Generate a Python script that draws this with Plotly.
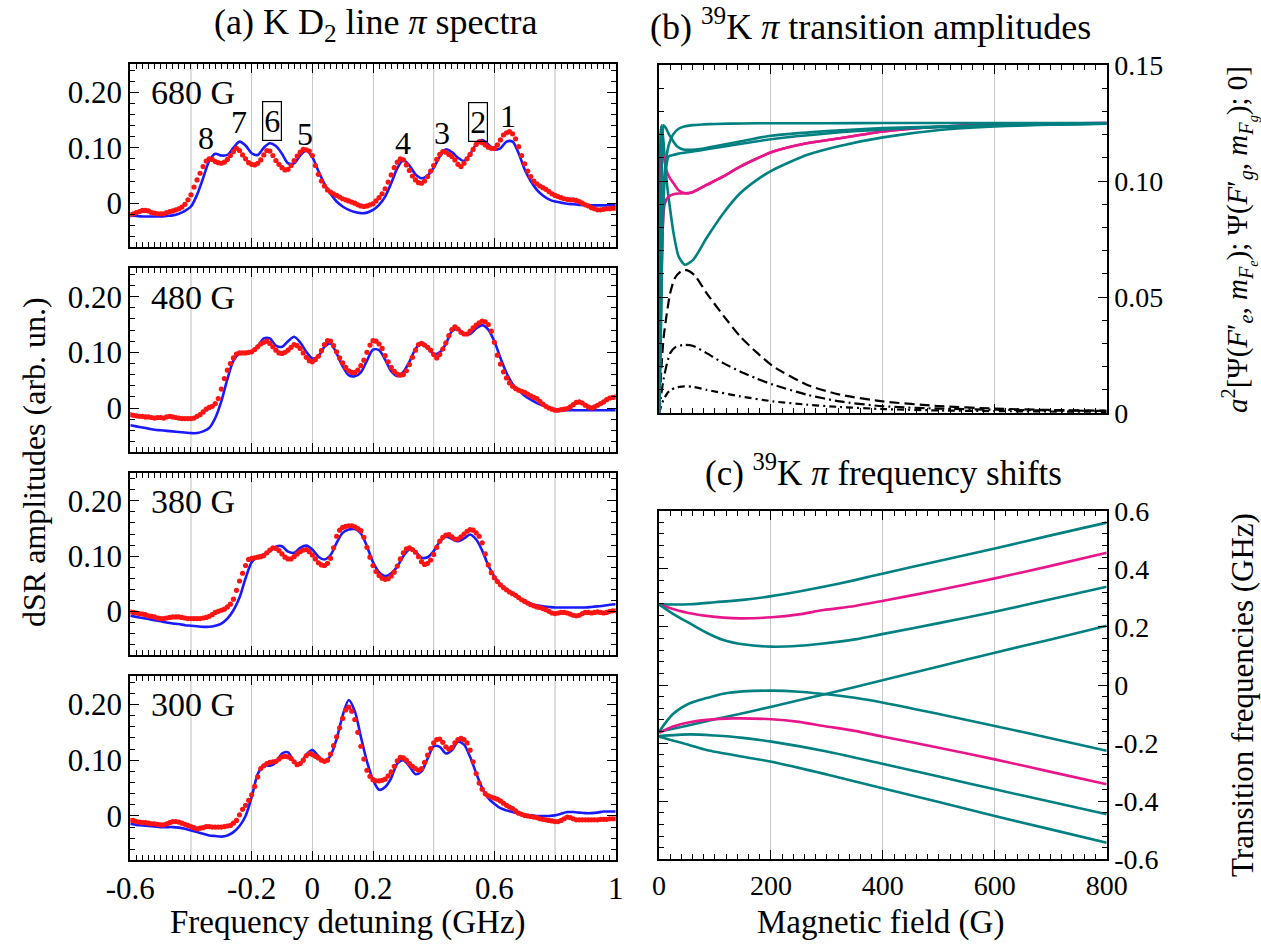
import numpy as np
import plotly.graph_objects as go

FONT = "Liberation Serif"
BLUE = "#1a1aff"
RED = "#ff1414"
TEAL = "#008080"
MAGENTA = "#e8168b"
GRID = "#c8c8c8"

# ---------------- (a) spectra: detuning grids (GHz) ----------------
DET_FIT = np.round(np.arange(-0.60, 1.0001, 0.02), 2)   # theory curve samples
DET_EXP = np.round(np.arange(-0.60, 1.0001, 0.01), 2)   # measured points

FIT_680 = [
    -0.022, -0.023, -0.024, -0.024, -0.024, -0.024, -0.023, -0.022, -0.019, -0.014,
    -0.006, 0.015, 0.045, 0.076, 0.089, 0.086, 0.087, 0.100, 0.111, 0.104,
    0.090, 0.087, 0.100, 0.108, 0.103, 0.089, 0.072, 0.072, 0.086, 0.095,
    0.083, 0.058, 0.035, 0.017, 0.003, -0.006, -0.012, -0.016, -0.018, -0.017,
    -0.012, -0.003, 0.012, 0.036, 0.063, 0.078, 0.068, 0.052, 0.045, 0.050,
    0.064, 0.084, 0.097, 0.092, 0.082, 0.076, 0.088, 0.106, 0.114, 0.106,
    0.097, 0.099, 0.111, 0.111, 0.090, 0.061, 0.040, 0.024, 0.014, 0.007,
    0.003, 0.001, -0.001, -0.002, -0.003, -0.004, -0.004, -0.004, -0.004, -0.004,
    -0.004,
]
EXP_680 = [
    -0.021, -0.019, -0.017, -0.015, -0.013, -0.013, -0.014, -0.017, -0.018, -0.019,
    -0.019, -0.019, -0.017, -0.015, -0.014, -0.012, -0.010, -0.007, -0.002, 0.006,
    0.015, 0.029, 0.042, 0.054, 0.066, 0.076, 0.080, 0.079, 0.075, 0.073,
    0.072, 0.074, 0.079, 0.086, 0.093, 0.099, 0.095, 0.087, 0.080, 0.073,
    0.070, 0.069, 0.072, 0.078, 0.087, 0.095, 0.094, 0.086, 0.077, 0.070,
    0.064, 0.060, 0.061, 0.068, 0.077, 0.085, 0.092, 0.097, 0.096, 0.094,
    0.086, 0.068, 0.052, 0.040, 0.031, 0.024, 0.020, 0.017, 0.014, 0.011,
    0.008, 0.006, 0.004, 0.002, 0.000, -0.003, -0.005, -0.006, -0.005, -0.003,
    -0.001, 0.004, 0.010, 0.017, 0.026, 0.038, 0.051, 0.064, 0.074, 0.080,
    0.078, 0.069, 0.059, 0.049, 0.042, 0.037, 0.036, 0.040, 0.048, 0.058,
    0.068, 0.079, 0.088, 0.093, 0.092, 0.088, 0.084, 0.078, 0.070, 0.066,
    0.072, 0.080, 0.088, 0.097, 0.106, 0.111, 0.109, 0.105, 0.101, 0.099,
    0.099, 0.105, 0.114, 0.123, 0.127, 0.129, 0.125, 0.116, 0.102, 0.086,
    0.071, 0.058, 0.048, 0.040, 0.035, 0.031, 0.028, 0.025, 0.021, 0.017,
    0.014, 0.012, 0.010, 0.008, 0.007, 0.006, 0.006, 0.005, 0.003, 0.000,
    -0.003, -0.005, -0.008, -0.010, -0.012, -0.012, -0.011, -0.010, -0.010, -0.009,
    -0.009,
]

FIT_480 = [
    -0.031, -0.033, -0.035, -0.037, -0.039, -0.040, -0.041, -0.042, -0.043, -0.044,
    -0.045, -0.045, -0.042, -0.036, -0.018, 0.012, 0.052, 0.085, 0.098, 0.100,
    0.101, 0.111, 0.125, 0.125, 0.112, 0.110, 0.120, 0.128, 0.118, 0.101,
    0.089, 0.093, 0.110, 0.116, 0.098, 0.075, 0.059, 0.057, 0.064, 0.085,
    0.105, 0.104, 0.087, 0.066, 0.057, 0.065, 0.083, 0.106, 0.118, 0.109,
    0.097, 0.100, 0.115, 0.138, 0.142, 0.134, 0.133, 0.143, 0.149, 0.141,
    0.120, 0.090, 0.063, 0.043, 0.032, 0.022, 0.015, 0.009, 0.005, 0.001,
    -0.002, -0.003, -0.004, -0.004, -0.004, -0.004, -0.004, -0.004, -0.004, -0.004,
    -0.004,
]
EXP_480 = [
    -0.012, -0.013, -0.014, -0.015, -0.015, -0.016, -0.016, -0.017, -0.018, -0.017,
    -0.017, -0.018, -0.016, -0.015, -0.016, -0.017, -0.018, -0.019, -0.019, -0.019,
    -0.019, -0.018, -0.015, -0.012, -0.007, -0.002, 0.001, 0.003, 0.008, 0.017,
    0.034, 0.053, 0.068, 0.080, 0.090, 0.097, 0.099, 0.099, 0.099, 0.100,
    0.101, 0.105, 0.110, 0.115, 0.118, 0.120, 0.116, 0.110, 0.104, 0.099,
    0.098, 0.100, 0.104, 0.109, 0.114, 0.112, 0.107, 0.099, 0.091, 0.085,
    0.083, 0.087, 0.093, 0.103, 0.114, 0.121, 0.120, 0.112, 0.101, 0.090,
    0.081, 0.073, 0.067, 0.064, 0.064, 0.068, 0.076, 0.086, 0.100, 0.113,
    0.121, 0.120, 0.115, 0.107, 0.094, 0.083, 0.073, 0.066, 0.061, 0.059,
    0.060, 0.067, 0.078, 0.091, 0.104, 0.114, 0.116, 0.113, 0.109, 0.104,
    0.096, 0.090, 0.096, 0.106, 0.117, 0.130, 0.141, 0.146, 0.142, 0.136,
    0.133, 0.133, 0.138, 0.144, 0.149, 0.153, 0.156, 0.155, 0.150, 0.138,
    0.118, 0.095, 0.079, 0.065, 0.054, 0.045, 0.039, 0.035, 0.032, 0.030,
    0.028, 0.025, 0.022, 0.019, 0.017, 0.012, 0.007, 0.003, 0.000, -0.002,
    -0.004, -0.004, -0.003, -0.002, -0.001, 0.002, 0.006, 0.010, 0.011, 0.009,
    0.005, 0.002, 0.000, 0.002, 0.005, 0.008, 0.011, 0.015, 0.018, 0.019,
    0.020,
]

FIT_380 = [
    -0.008, -0.010, -0.012, -0.014, -0.016, -0.018, -0.020, -0.022, -0.023, -0.025,
    -0.026, -0.027, -0.028, -0.028, -0.026, -0.022, -0.013, 0.002, 0.025, 0.060,
    0.089, 0.099, 0.103, 0.109, 0.117, 0.118, 0.108, 0.106, 0.115, 0.119,
    0.112, 0.099, 0.094, 0.102, 0.124, 0.142, 0.148, 0.149, 0.141, 0.118,
    0.089, 0.071, 0.064, 0.069, 0.081, 0.100, 0.112, 0.108, 0.097, 0.098,
    0.109, 0.126, 0.135, 0.131, 0.127, 0.132, 0.139, 0.130, 0.110, 0.083,
    0.063, 0.049, 0.040, 0.032, 0.025, 0.018, 0.014, 0.011, 0.009, 0.008,
    0.007, 0.007, 0.007, 0.007, 0.007, 0.007, 0.008, 0.009, 0.010, 0.012,
    0.013,
]
EXP_380 = [
    -0.001, -0.002, -0.003, -0.004, -0.005, -0.006, -0.008, -0.009, -0.010, -0.012,
    -0.013, -0.013, -0.012, -0.011, -0.010, -0.010, -0.010, -0.011, -0.012, -0.013,
    -0.013, -0.013, -0.013, -0.013, -0.012, -0.011, -0.009, -0.006, -0.002, 0.000,
    0.002, 0.004, 0.008, 0.013, 0.022, 0.038, 0.055, 0.069, 0.083, 0.094,
    0.096, 0.097, 0.098, 0.099, 0.101, 0.106, 0.111, 0.115, 0.114, 0.110,
    0.104, 0.098, 0.095, 0.095, 0.099, 0.104, 0.108, 0.111, 0.112, 0.108,
    0.102, 0.095, 0.088, 0.084, 0.083, 0.087, 0.096, 0.115, 0.136, 0.147,
    0.152, 0.154, 0.155, 0.155, 0.153, 0.150, 0.146, 0.134, 0.116, 0.098,
    0.083, 0.072, 0.065, 0.060, 0.058, 0.059, 0.064, 0.071, 0.082, 0.095,
    0.106, 0.113, 0.115, 0.112, 0.107, 0.099, 0.090, 0.085, 0.087, 0.093,
    0.103, 0.116, 0.127, 0.134, 0.138, 0.139, 0.135, 0.131, 0.131, 0.135,
    0.140, 0.145, 0.148, 0.147, 0.142, 0.136, 0.124, 0.104, 0.084, 0.070,
    0.061, 0.054, 0.048, 0.043, 0.039, 0.035, 0.032, 0.029, 0.025, 0.021,
    0.018, 0.015, 0.012, 0.010, 0.008, 0.007, 0.005, 0.003, 0.000, -0.003,
    -0.004, -0.003, -0.002, -0.002, -0.003, -0.005, -0.007, -0.008, -0.007, -0.004,
    -0.002, -0.002, -0.003, -0.002, -0.001, -0.002, -0.003, -0.002, 0.000, 0.001,
    0.001,
]

FIT_300 = [
    -0.014, -0.016, -0.017, -0.018, -0.019, -0.020, -0.020, -0.020, -0.021, -0.023,
    -0.026, -0.029, -0.032, -0.035, -0.036, -0.037, -0.035, -0.029, -0.018, 0.000,
    0.034, 0.075, 0.091, 0.090, 0.096, 0.112, 0.114, 0.097, 0.094, 0.110,
    0.118, 0.107, 0.097, 0.108, 0.138, 0.180, 0.208, 0.188, 0.142, 0.098,
    0.065, 0.047, 0.052, 0.068, 0.094, 0.100, 0.089, 0.075, 0.080, 0.103,
    0.125, 0.124, 0.112, 0.118, 0.133, 0.128, 0.106, 0.077, 0.050, 0.032,
    0.022, 0.014, 0.010, 0.007, 0.004, 0.002, 0.001, 0.000, 0.000, 0.000,
    0.001, 0.004, 0.007, 0.007, 0.006, 0.005, 0.005, 0.006, 0.008, 0.008,
    0.008,
]
EXP_300 = [
    -0.008, -0.008, -0.010, -0.011, -0.012, -0.012, -0.013, -0.014, -0.014, -0.015,
    -0.016, -0.016, -0.014, -0.012, -0.010, -0.010, -0.011, -0.013, -0.015, -0.017,
    -0.019, -0.021, -0.023, -0.022, -0.021, -0.019, -0.019, -0.020, -0.020, -0.020,
    -0.020, -0.019, -0.018, -0.017, -0.013, -0.008, 0.002, 0.012, 0.019, 0.028,
    0.038, 0.053, 0.070, 0.085, 0.090, 0.094, 0.096, 0.097, 0.098, 0.102,
    0.106, 0.107, 0.106, 0.103, 0.097, 0.092, 0.094, 0.100, 0.108, 0.112,
    0.110, 0.107, 0.104, 0.100, 0.098, 0.100, 0.111, 0.126, 0.142, 0.158,
    0.175, 0.190, 0.195, 0.188, 0.173, 0.150, 0.125, 0.102, 0.082, 0.071,
    0.065, 0.063, 0.063, 0.064, 0.066, 0.072, 0.079, 0.089, 0.099, 0.105,
    0.104, 0.100, 0.094, 0.089, 0.085, 0.082, 0.085, 0.096, 0.109, 0.121,
    0.131, 0.137, 0.138, 0.132, 0.124, 0.120, 0.123, 0.131, 0.137, 0.139,
    0.137, 0.131, 0.118, 0.097, 0.076, 0.059, 0.048, 0.040, 0.036, 0.034,
    0.032, 0.030, 0.027, 0.023, 0.019, 0.016, 0.013, 0.009, 0.005, 0.003,
    0.001, 0.000, -0.001, -0.002, -0.003, -0.005, -0.006, -0.007, -0.008, -0.009,
    -0.010, -0.010, -0.008, -0.005, -0.002, -0.003, -0.005, -0.007, -0.007, -0.007,
    -0.007, -0.007, -0.007, -0.007, -0.007, -0.006, -0.006, -0.006, -0.005, -0.005,
    -0.005,
]

SPECTRA = [("680 G", FIT_680, EXP_680), ("480 G", FIT_480, EXP_480),
           ("380 G", FIT_380, EXP_380), ("300 G", FIT_300, EXP_300)]

# labelled detuning ticks and the unlabelled grid positions between them
DET_TICKS = [-0.6, -0.2, 0, 0.2, 0.6, 1.0]
DET_TICK_TEXT = ["-0.6", "-0.2", "0", "0.2", "0.6", "1"]
DET_EXTRA_GRID = [-0.4, 0.4, 0.8]

# peak numbering on the 680 G spectrum (boxed = highlighted)
PEAK_TEXT = ["8", "7", "6", "5", "4", "3", "2", "1"]
PEAK_DET = [-0.350, -0.241, -0.134, -0.023, 0.298, 0.427, 0.545, 0.646]
PEAK_AMP = [0.117, 0.147, 0.149, 0.125, 0.108, 0.126, 0.147, 0.157]
PEAK_BOXED = [False, False, True, False, False, False, True, False]

# ---------------- (b) transition amplitudes vs field ----------------
AMP_CURVES = [
    # (colour, dash, B values (G), amplitudes)
    ("black", "10px,5px",
     [0, 4, 8, 14, 20, 28, 38, 46, 55, 65, 85, 115, 145, 175, 204, 264, 323, 400, 500, 600, 700, 800],
     [0, 0.018, 0.032, 0.043, 0.0517, 0.058, 0.0608, 0.0617, 0.0610, 0.0590, 0.0517, 0.0420,
      0.0330, 0.0260, 0.0201, 0.0122, 0.0079, 0.0050, 0.0030, 0.0019, 0.0013, 0.0010]),
    ("black", "10px,4px,2px,4px",
     [0, 4, 8, 14, 20, 30, 46, 60, 85, 115, 145, 175, 204, 264, 323, 400, 500, 600, 700, 800],
     [0, 0.008, 0.0144, 0.021, 0.0258, 0.0285, 0.0294, 0.0290, 0.0258, 0.0215, 0.0179, 0.0148,
      0.0122, 0.0079, 0.0050, 0.0029, 0.0019, 0.0014, 0.0011, 0.0009]),
    ("black", "7px,4px,2px,4px",
     [0, 4, 8, 14, 20, 30, 46, 60, 85, 145, 204, 264, 323, 400, 500, 600, 800],
     [0, 0.003, 0.0057, 0.0082, 0.0098, 0.0110, 0.0115, 0.0113, 0.0100, 0.0072, 0.0050,
      0.0036, 0.0026, 0.0017, 0.0011, 0.0008, 0.0005]),
    (TEAL, "solid",
     [0, 1.5, 3, 5, 8, 11, 15, 20, 26, 35, 46, 61, 85, 115, 145, 175, 204, 264, 323, 400, 502, 621, 700, 800],
     [0, 0.080, 0.121, 0.124, 0.117, 0.107, 0.097, 0.0876, 0.0775, 0.0675, 0.0639, 0.066,
      0.0754, 0.0861, 0.0947, 0.1005, 0.1048, 0.1112, 0.1151, 0.1188, 0.1220, 0.1237, 0.1243, 0.1248]),
    (MAGENTA, "solid",
     [0, 3, 6, 10, 17, 26, 35, 46, 60, 85, 115, 145, 175, 204, 264, 323, 400, 500, 620, 700, 800],
     [0, 0.040, 0.075, 0.090, 0.0933, 0.0943, 0.0946, 0.0947, 0.0952, 0.0983, 0.102, 0.1062,
      0.1097, 0.1127, 0.1163, 0.1184, 0.1213, 0.1234, 0.1246, 0.1248, 0.1250]),
    (MAGENTA, "solid",
     [0, 2, 4, 6, 9, 14, 20, 26, 35, 46, 60, 85, 115, 145, 175, 204, 264, 323, 400, 500, 620, 700, 800],
     [0, 0.060, 0.105, 0.112, 0.110, 0.104, 0.101, 0.099, 0.096, 0.0947, 0.0952, 0.0983, 0.102,
      0.1062, 0.1097, 0.1127, 0.1163, 0.1184, 0.1213, 0.1234, 0.1246, 0.1248, 0.1250]),
    (TEAL, "solid",
     [0, 3, 6, 10, 17, 25, 35, 45, 60, 85, 120, 145, 200, 300, 400, 500, 600, 700, 800],
     [0, 0.030, 0.075, 0.100, 0.1105, 0.1112, 0.1118, 0.1122, 0.1127, 0.1137, 0.1150, 0.1160,
      0.1180, 0.1205, 0.1222, 0.1232, 0.1239, 0.1244, 0.1247]),
    (TEAL, "solid",
     [0, 3, 6, 8, 12, 16, 23, 32, 45, 60, 80, 100, 145, 200, 300, 400, 500, 600, 700, 800],
     [0, 0.070, 0.118, 0.124, 0.123, 0.121, 0.118, 0.115, 0.1135, 0.1135, 0.114, 0.115, 0.117,
      0.1195, 0.1215, 0.1228, 0.1235, 0.1240, 0.1244, 0.1247]),
    (TEAL, "solid",
     [0, 2, 4, 6, 9, 13, 18, 25, 35, 45, 60, 80, 100, 150, 200, 300, 400, 600, 800],
     [0, 0.020, 0.050, 0.080, 0.100, 0.110, 0.116, 0.120, 0.1225, 0.1235, 0.1241, 0.1244,
      0.1246, 0.1248, 0.1249, 0.1249, 0.1250, 0.1250, 0.1250]),
]

# ---------------- (c) transition frequencies vs field ----------------
SHIFT_CURVES = [
    (TEAL, [0, 55, 100, 150, 201, 250, 294, 350, 401, 500, 600, 700, 800],
     [0.2776, 0.278, 0.285, 0.293, 0.306, 0.322, 0.338, 0.361, 0.384, 0.427, 0.470, 0.515, 0.559]),
    (MAGENTA, [0, 25, 55, 85, 115, 145, 201, 250, 294, 350, 401, 500, 600, 700, 800],
     [0.2776, 0.262, 0.247, 0.238, 0.232, 0.2294, 0.233, 0.243, 0.258, 0.272, 0.290, 0.327,
      0.367, 0.410, 0.455]),
    (TEAL, [0, 25, 55, 85, 115, 150, 201, 250, 294, 350, 401, 500, 600, 700, 800],
     [0.2776, 0.245, 0.212, 0.180, 0.155, 0.140, 0.132, 0.135, 0.143, 0.157, 0.176, 0.213,
      0.252, 0.295, 0.338]),
    (TEAL, [0, 50, 100, 150, 201, 300, 401, 500, 600, 700, 800],
     [-0.161, -0.140, -0.118, -0.097, -0.0746, -0.030, 0.0172, 0.064, 0.111, 0.157, 0.204]),
    (TEAL, [0, 25, 55, 85, 115, 150, 201, 250, 294, 350, 401, 500, 600, 700, 800],
     [-0.161, -0.100, -0.063, -0.045, -0.030, -0.022, -0.0195, -0.023, -0.031, -0.044, -0.061,
      -0.100, -0.141, -0.183, -0.226]),
    (MAGENTA, [0, 25, 55, 85, 133, 201, 250, 294, 350, 401, 500, 600, 700, 800],
     [-0.165, -0.143, -0.128, -0.120, -0.115, -0.118, -0.127, -0.141, -0.158, -0.178, -0.216,
      -0.256, -0.299, -0.342]),
    (TEAL, [0, 55, 100, 150, 201, 300, 401, 500, 600, 700, 800],
     [-0.176, -0.170, -0.174, -0.182, -0.195, -0.229, -0.272, -0.315, -0.359, -0.402, -0.445]),
    (TEAL, [0, 55, 85, 150, 201, 300, 401, 500, 600, 700, 800],
     [-0.178, -0.207, -0.224, -0.247, -0.264, -0.308, -0.356, -0.403, -0.451, -0.497, -0.543]),
]

W, H = 1261, 948


def px_x(p):
    return p / W


def px_y(p):
    return 1 - p / H


LEFT_X = [px_x(130.3), px_x(615.7)]
RIGHT_X = [px_x(659), px_x(1106.7)]
LEFT_Y = [(64, 247), (268.3, 452), (472.7, 655), (676, 860)]

fig = go.Figure()


def axis(size=31, **kw):
    base = dict(showline=True, linecolor="black", linewidth=2, mirror="allticks",
                ticks="inside", ticklen=9, tickwidth=1.3, tickcolor="black",
                zeroline=False, showgrid=False, automargin=False,
                tickfont=dict(family=FONT, size=size, color="black"))
    base.update(kw)
    return base


layout_axes = {}
shapes = []
for i, (label, fit, exp) in enumerate(SPECTRA, start=1):
    assert len(fit) == len(DET_FIT) and len(exp) == len(DET_EXP), label
    xa = "x" if i == 1 else f"x{i}"
    ya = "y" if i == 1 else f"y{i}"
    fig.add_trace(go.Scatter(x=DET_FIT, y=fit, mode="lines", xaxis=xa, yaxis=ya,
                             line=dict(color=BLUE, width=2.6, shape="spline", smoothing=0.8),
                             showlegend=False, hoverinfo="skip"))
    fig.add_trace(go.Scatter(x=DET_EXP, y=exp, mode="markers", xaxis=xa, yaxis=ya,
                             marker=dict(color=RED, size=5.2, line=dict(width=0)),
                             showlegend=False, hoverinfo="skip"))
    top, bot = LEFT_Y[i - 1]
    last = i == 4
    layout_axes[f"xaxis{i}"] = axis(
        domain=LEFT_X, anchor=ya, range=[-0.6, 1.0],
        tickmode="array", tickvals=DET_TICKS, ticktext=DET_TICK_TEXT,
        showticklabels=last, showgrid=True, gridcolor=GRID, gridwidth=1.2,
        minor=dict(ticks="inside", ticklen=5, tickcolor="black", tickmode="linear",
                   tick0=-0.6, dtick=0.02, showgrid=False),
    )
    layout_axes[f"yaxis{i}"] = axis(
        domain=[px_y(bot), px_y(top)], anchor=xa, range=[-0.079, 0.251],
        tickmode="array", tickvals=[0, 0.1, 0.2], ticktext=["0", "0.10", "0.20"],
        minor=dict(ticks="inside", ticklen=5, tickcolor="black", tickmode="linear",
                   tick0=0, dtick=0.02),
    )
    # grid lines at the unlabelled 0.2 GHz steps
    for g in DET_EXTRA_GRID:
        shapes.append(dict(type="line", xref=xa, yref=f"{ya} domain", x0=g, x1=g, y0=0, y1=1,
                           line=dict(color=GRID, width=1.2), layer="below"))

for color, dash, bs, vals in AMP_CURVES:
    fig.add_trace(go.Scatter(x=bs, y=vals, mode="lines", xaxis="x5", yaxis="y5",
                             line=dict(color=color, width=2.2 if color == "black" else 2.6,
                                       dash=dash, shape="spline", smoothing=0.6),
                             showlegend=False, hoverinfo="skip"))

for color, bs, vals in SHIFT_CURVES:
    fig.add_trace(go.Scatter(x=bs, y=vals, mode="lines", xaxis="x6", yaxis="y6",
                             line=dict(color=color, width=2.6, shape="spline", smoothing=0.8),
                             showlegend=False, hoverinfo="skip"))

b_ticks = [0, 200, 400, 600, 800]
layout_axes["xaxis5"] = axis(
    size=28, domain=RIGHT_X, anchor="y5", range=[0, 800], tickmode="array", tickvals=b_ticks,
    showticklabels=False, showgrid=True, gridcolor=GRID, gridwidth=1.2,
    minor=dict(ticks="inside", ticklen=5, tickcolor="black", tickmode="linear", tick0=0, dtick=20),
)
layout_axes["yaxis5"] = axis(
    size=28, domain=[px_y(413), px_y(65)], anchor="x5", side="right", range=[0, 0.15],
    tickmode="array", tickvals=[0, 0.05, 0.1, 0.15], ticktext=["0", "0.05", "0.10", "0.15"],
    minor=dict(ticks="inside", ticklen=5, tickcolor="black", tickmode="linear", tick0=0, dtick=0.01),
)
layout_axes["xaxis6"] = axis(
    size=28, domain=RIGHT_X, anchor="y6", range=[0, 800], tickmode="array", tickvals=b_ticks,
    ticktext=[str(v) for v in b_ticks], showgrid=True, gridcolor=GRID, gridwidth=1.2,
    minor=dict(ticks="inside", ticklen=5, tickcolor="black", tickmode="linear", tick0=0, dtick=20),
)
c_ticks = [-0.6, -0.4, -0.2, 0, 0.2, 0.4, 0.6]
layout_axes["yaxis6"] = axis(
    size=28, domain=[px_y(859.3), px_y(510.7)], anchor="x6", side="right", range=[-0.6, 0.6],
    tickmode="array", tickvals=c_ticks, ticktext=["-0.6", "-0.4", "-0.2", "0", "0.2", "0.4", "0.6"],
    minor=dict(ticks="inside", ticklen=5, tickcolor="black", tickmode="linear", tick0=0, dtick=0.04),
)

annotations = []


def text(x, y, s, size=33, angle=0):
    annotations.append(dict(x=px_x(x), y=px_y(y), xref="paper", yref="paper", text=s,
                            showarrow=False, textangle=angle, xanchor="center", yanchor="middle",
                            font=dict(family=FONT, size=size, color="black")))


text(376, 24, "(a) K D<sub>2</sub> line <i>π</i> spectra", size=36)
text(870, 24, "(b) <sup>39</sup>K <i>π</i> transition amplitudes", size=36)
text(884, 470, "(c) <sup>39</sup>K <i>π</i> frequency shifts", size=35)
text(34, 462, "dSR amplitudes (arb. un.)", size=32, angle=-90)
text(348, 922, "Frequency detuning (GHz)", size=33)
text(880, 922, "Magnetic field (G)", size=33)
text(1239, 240, "<i>a</i><sup>2</sup>[Ψ(<i>F</i>′<sub><i>e</i></sub>, <i>m</i><sub><i>F<sub>e</sub></i></sub>); "
                "Ψ(<i>F</i>′<sub><i>g</i></sub>, <i>m</i><sub><i>F<sub>g</sub></i></sub>); 0]",
     size=29, angle=-90)
text(1242, 695, "Transition frequencies (GHz)", size=31, angle=-90)

for i, (label, _, _) in enumerate(SPECTRA, start=1):
    annotations.append(dict(x=-0.54, y=0.199, xref=f"x{i}" if i > 1 else "x",
                            yref=f"y{i}" if i > 1 else "y", text=label, showarrow=False,
                            xanchor="left", yanchor="middle",
                            font=dict(family=FONT, size=34, color="black")))

for t, xv, yv, boxed in zip(PEAK_TEXT, PEAK_DET, PEAK_AMP, PEAK_BOXED):
    extra = dict(bordercolor="black", borderwidth=1.2, borderpad=1) if boxed else {}
    annotations.append(dict(x=xv, y=yv, xref="x", yref="y", text=t, showarrow=False,
                            xanchor="center", yanchor="middle",
                            font=dict(family=FONT, size=32, color="black"), **extra))

fig.update_layout(
    width=W, height=H, margin=dict(l=0, r=0, t=0, b=0),
    paper_bgcolor="white", plot_bgcolor="white",
    font=dict(family=FONT, size=28, color="black"),
    showlegend=False, annotations=annotations, shapes=shapes, **layout_axes,
)

# drop the browser's default 8px body margin so the figure fills the window exactly
fig.write_html("out.html", config={"displayModeBar": False},
               post_script="document.body.style.margin = '0';")
